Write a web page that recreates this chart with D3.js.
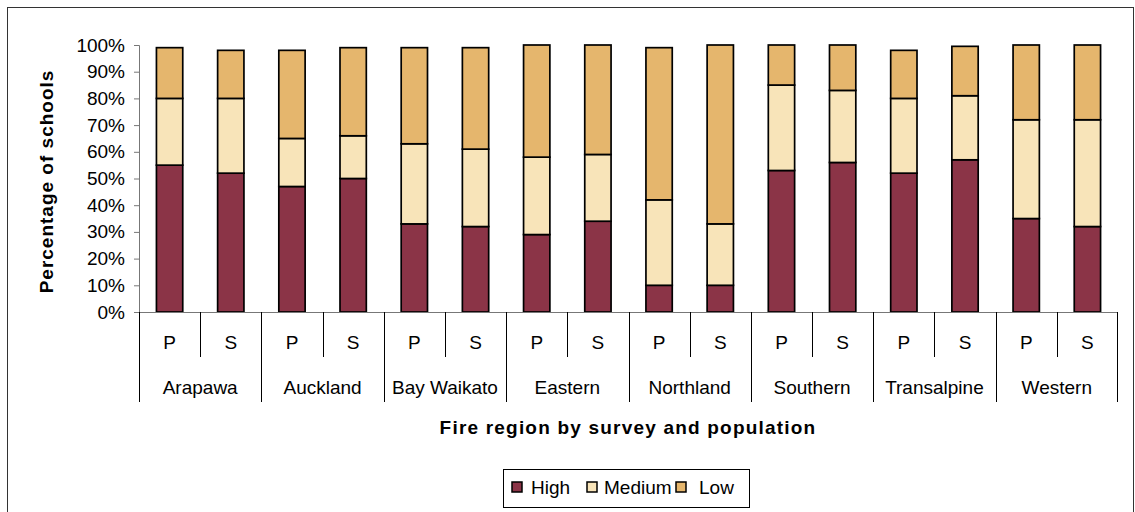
<!DOCTYPE html>
<html>
<head>
<meta charset="utf-8">
<script src="https://cdn.jsdelivr.net/npm/d3@7"></script>
<style>
  body { margin: 0; background: #fff; }
  text { font-family: "Liberation Sans", Arial, sans-serif; fill: #000; }
</style>
</head>
<body>
<div id="chart"></div>
<script>
// regions and survey split
var regions = ["Arapawa", "Auckland", "Bay Waikato", "Eastern", "Northland", "Southern", "Transalpine", "Western"];
var surveys = ["P", "S"];
// percentage of schools, one value per region/survey bar (P, S, P, S ...)
var high   = [55, 52, 47, 50, 33, 32, 29, 34, 10, 10, 53, 56, 52, 57, 35, 32];
var medium = [25, 28, 18, 16, 30, 29, 29, 25, 32, 23, 32, 27, 28, 24, 37, 40];
var low    = [19, 18, 33, 33, 36, 38, 42, 41, 57, 67, 15, 17, 18, 18.5, 28, 28];
var seriesNames = ["High", "Medium", "Low"];
var yTicks = [0, 10, 20, 30, 40, 50, 60, 70, 80, 90, 100];

var width = 1135, height = 512;
var margin = {top: 45, right: 17, bottom: 200, left: 139};
var plotW = width - margin.left - margin.right,
    plotH = 312 - margin.top;
var fontSize = "19px";

var colors = {High: "#8b3447", Medium: "#f8e4b9", Low: "#e5b66d"};

// build rows
var rows = [];
regions.forEach(function(r, i) {
  surveys.forEach(function(s, j) {
    var k = i * 2 + j;
    rows.push({key: r + "|" + s, region: r, survey: s, High: high[k], Medium: medium[k], Low: low[k]});
  });
});

var svg = d3.select("#chart").append("svg")
    .attr("width", width)
    .attr("height", height);

// outer frame
svg.append("rect")
    .attr("x", 7.5).attr("y", 7.5)
    .attr("width", 1126).attr("height", 520)
    .attr("fill", "none").attr("stroke", "#333").attr("stroke-width", 1);

var g = svg.append("g")
    .attr("transform", "translate(" + margin.left + "," + margin.top + ")");

var xScale = d3.scaleBand().domain(rows.map(function(d) { return d.key; })).range([0, plotW]).padding(0);
var yScale = d3.scaleLinear().domain([0, 100]).range([plotH, 0]);

var stack = d3.stack().keys(seriesNames);
var stacked = stack(rows);

var barW = xScale.bandwidth() * 0.43;

g.selectAll("g.series")
  .data(stacked)
  .enter().append("g")
    .attr("class", "series")
    .attr("fill", function(d) { return colors[d.key]; })
  .selectAll("rect")
  .data(function(d) { return d; })
  .enter().append("rect")
    .attr("x", function(d) { return xScale(d.data.key) + (xScale.bandwidth() - barW) / 2; })
    .attr("y", function(d) { return yScale(d[1]); })
    .attr("width", barW)
    .attr("height", function(d) { return yScale(d[0]) - yScale(d[1]); })
    .attr("stroke", "#000")
    .attr("stroke-width", 1.7);

// Y axis
var yAxis = g.append("g")
    .call(d3.axisLeft(yScale).tickValues(yTicks).tickSize(5).tickPadding(9)
      .tickFormat(function(d) { return d + "%"; }));
yAxis.selectAll("text").style("font-size", fontSize);
yAxis.selectAll("line, path").attr("stroke", "#777");
yAxis.select("path.domain").attr("d", "M-5,0.5H0.5V" + plotH);

// X axis baseline
g.append("line")
    .attr("x1", 0).attr("x2", plotW)
    .attr("y1", plotH + 0.5).attr("y2", plotH + 0.5)
    .attr("stroke", "#777");

// survey separators (short) and region separators (long)
var lower = g.append("g").attr("transform", "translate(0," + plotH + ")");
lower.selectAll("line.minor")
  .data(rows.filter(function(d) { return d.survey === "S"; }))
  .enter().append("line")
    .attr("x1", function(d) { return Math.round(xScale(d.key)) + 0.5; })
    .attr("x2", function(d) { return Math.round(xScale(d.key)) + 0.5; })
    .attr("y1", 0).attr("y2", 45)
    .attr("stroke", "#000");
lower.selectAll("line.major")
  .data(rows.filter(function(d) { return d.survey === "P"; }).concat([null]))
  .enter().append("line")
    .attr("x1", function(d) { return d ? Math.round(xScale(d.key)) + 0.5 : plotW - 0.5; })
    .attr("x2", function(d) { return d ? Math.round(xScale(d.key)) + 0.5 : plotW - 0.5; })
    .attr("y1", 0).attr("y2", 90)
    .attr("stroke", "#000");

lower.selectAll("text.survey")
  .data(rows)
  .enter().append("text")
    .attr("x", function(d) { return xScale(d.key) + xScale.bandwidth() / 2; })
    .attr("y", 30)
    .attr("dy", "0.35em")
    .attr("text-anchor", "middle")
    .style("font-size", fontSize)
    .text(function(d) { return d.survey; });

lower.selectAll("text.region")
  .data(rows.filter(function(d) { return d.survey === "P"; }))
  .enter().append("text")
    .attr("x", function(d) { return xScale(d.key) + xScale.bandwidth(); })
    .attr("y", 75)
    .attr("dy", "0.35em")
    .attr("text-anchor", "middle")
    .style("font-size", fontSize)
    .text(function(d) { return d.region; });

// axis titles
svg.append("text")
    .attr("transform", "translate(46," + (margin.top + plotH / 2 + 3) + ") rotate(-90)")
    .attr("text-anchor", "middle")
    .attr("dy", "0.35em")
    .style("font-size", fontSize)
    .style("font-weight", "bold")
    .style("letter-spacing", "1px")
    .text("Percentage of schools");

svg.append("text")
    .attr("x", 628).attr("y", 427)
    .attr("dy", "0.35em")
    .attr("text-anchor", "middle")
    .style("font-size", fontSize)
    .style("font-weight", "bold")
    .style("letter-spacing", "1.2px")
    .text("Fire region by survey and population");

// legend
var legend = svg.append("g");
legend.append("rect")
    .attr("x", 503.5).attr("y", 469.5)
    .attr("width", 246).attr("height", 38)
    .attr("fill", "#fff").attr("stroke", "#000");
var legendX = [512, 587, 676];
var items = legend.selectAll("g.item")
  .data(seriesNames)
  .enter().append("g")
    .attr("transform", function(d, i) { return "translate(" + legendX[i] + ",482)"; });
items.append("rect")
    .attr("width", 10).attr("height", 10)
    .attr("fill", function(d) { return colors[d]; })
    .attr("stroke", "#000").attr("stroke-width", 1.5);
items.append("text")
    .attr("x", function(d, i) { return [19, 17, 23][i]; })
    .attr("y", 5)
    .attr("dy", "0.35em")
    .style("font-size", fontSize)
    .text(function(d) { return d; });
</script>
</body>
</html>
